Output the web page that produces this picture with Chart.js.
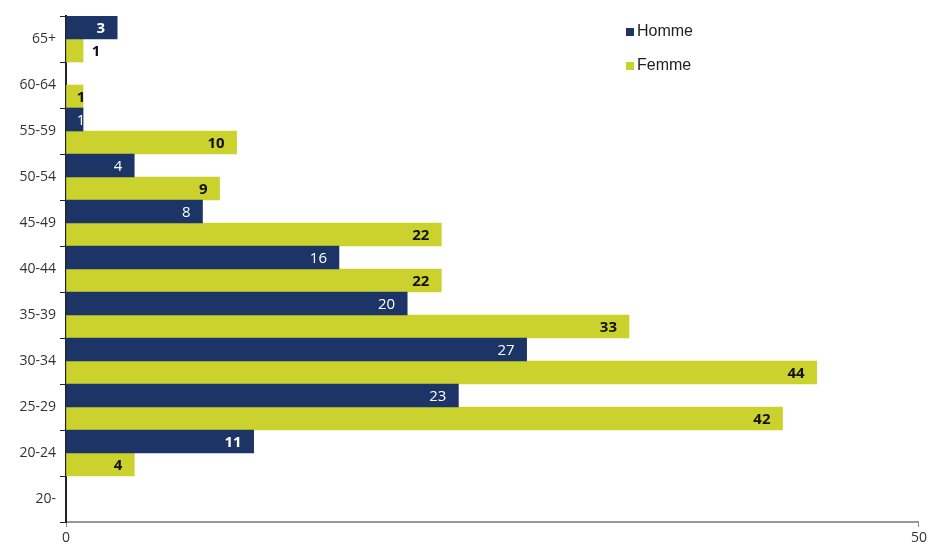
<!DOCTYPE html>
<html>
<head>
<meta charset="utf-8">
<script src="https://cdn.jsdelivr.net/npm/chart.js@4"></script>
<style>
    html, body { margin: 0; padding: 0; background: #fff; }
    #wrap { position: relative; width: 930px; height: 550px; }
    #legend { position: absolute; left: 626px; top: 22px; font-family: "Liberation Sans", Arial, sans-serif; font-size: 16px; color: #222; }
    #legend div { height: 34px; display: flex; align-items: flex-start; }
    #legend span { display: inline-block; width: 8px; height: 8px; margin: 6px 3px 0 0; }
</style>
</head>
<body>
<div id="wrap">
    <canvas id="myChart" width="930" height="550"></canvas>
    <div id="legend">
        <div><span style="background:#1d3566"></span>Homme</div>
        <div><span style="background:#cbd22e"></span>Femme</div>
    </div>
</div>
<script>
    "use strict";
    const tranches = ['65+', '60-64', '55-59', '50-54', '45-49', '40-44', '35-39', '30-34', '25-29', '20-24', '20-'];
    const homme = [3, null, 1, 4, 8, 16, 20, 27, 23, 11, null];
    const femme = [1, 1, 10, 9, 22, 22, 33, 44, 42, 4, null];
    const xTicks = [0, 50];

    // valeurs ecrites au bout des barres
    const etiquettes = {
        id: 'etiquettes',
        afterDatasetsDraw(chart) {
            let ctx = chart.ctx;
            ctx.save();
            ctx.textBaseline = 'middle';
            ctx.textAlign = 'center';
            chart.data.datasets.forEach(function (ds, i) {
                let meta = chart.getDatasetMeta(i);
                meta.data.forEach(function (bar, j) {
                    let v = ds.data[j];
                    if (v === null) return;
                    ctx.font = (i === 1 || v === 3 || v === 11 ? 'bold ' : '') + '15px "Open Sans", "DejaVu Sans", sans-serif';
                    ctx.fillStyle = i === 0 ? '#ffffff' : '#111111';
                    let w = ctx.measureText(String(v)).width;
                    let largeur = bar.x - bar.base;
                    let x;
                    if (largeur > w + 16) {
                        x = bar.x - 12 - w / 2;
                    } else if (i === 1 && j === 0) {
                        x = bar.x + 13;
                    } else {
                        x = bar.x - 2;
                    }
                    ctx.fillText(String(v), x, bar.y + 1);
                });
            });
            ctx.restore();
        }
    };

    var ctx = document.getElementById('myChart').getContext('2d');
    var myChart = new Chart(ctx, {
        type: 'bar',
        data: {
            labels: tranches,
            datasets: [{
                label: 'Homme',
                data: homme,
                backgroundColor: '#1d3566',
                barPercentage: 1,
                categoryPercentage: 1
            }, {
                label: 'Femme',
                data: femme,
                backgroundColor: '#cbd22e',
                barPercentage: 1,
                categoryPercentage: 1
            }]
        },
        options: {
            indexAxis: 'y',
            responsive: false,
            animation: false,
            layout: { padding: { top: 16, right: 10, left: 0, bottom: 0 } },
            plugins: {
                legend: { display: false },
                tooltip: { enabled: false }
            },
            scales: {
                x: {
                    min: 0,
                    max: 50,
                    afterBuildTicks: function (s) {
                        s.ticks = xTicks.map(function (v) { return { value: v }; });
                    },
                    afterFit: function (s) { s.height = 28; },
                    grid: { drawOnChartArea: false, tickLength: 5, color: '#888' },
                    border: { color: '#999', width: 2 },
                    ticks: {
                        padding: 3,
                        color: '#333',
                        maxRotation: 0,
                        font: { family: '"Open Sans", "DejaVu Sans", sans-serif', size: 14 }
                    }
                },
                y: {
                    afterFit: function (s) { s.width = 66; },
                    grid: { drawOnChartArea: false, offset: true, tickLength: 6, color: '#222' },
                    border: { color: '#222', width: 2 },
                    ticks: {
                        padding: 4,
                        color: '#333',
                        font: { family: '"Open Sans", "DejaVu Sans", sans-serif', size: 14 }
                    }
                }
            }
        },
        plugins: [etiquettes]
    });
</script>
</body>
</html>
